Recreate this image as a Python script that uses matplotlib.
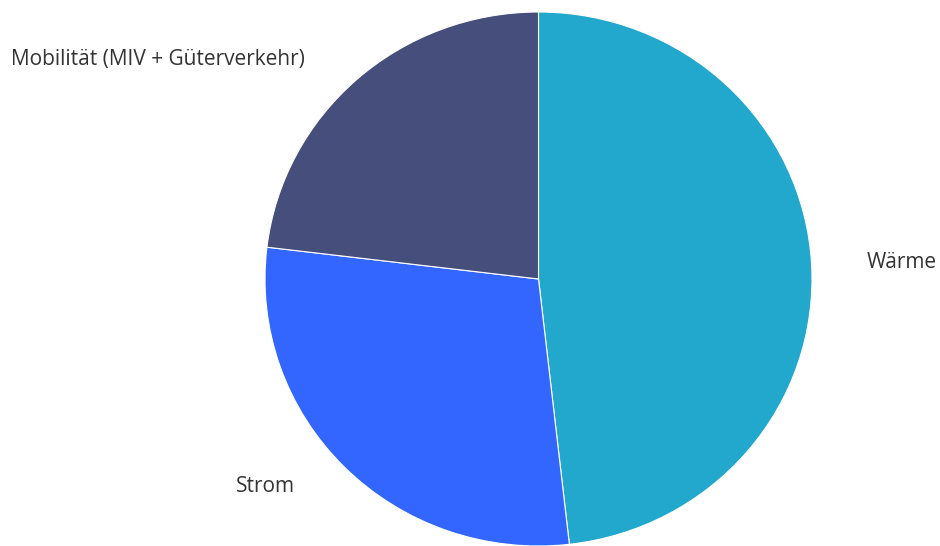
import matplotlib
matplotlib.use("Agg")
import matplotlib.pyplot as plt

# Anteile am Energieverbrauch (geschätzt aus der Grafik, in %)
kategorien = ["Wärme", "Strom", "Mobilität (MIV + Güterverkehr)"]
anteile = [48.2, 28.7, 23.1]
farben = ["#21a8cc", "#3366fe", "#464f7c"]

# Label-Positionen in Pixeln (links, Mitte)
label_pos = {
    "Wärme": (867, 262),
    "Strom": (236, 487),
    "Mobilität (MIV + Güterverkehr)": (11, 59),
}

W, H = 940, 546
fig = plt.figure(figsize=(W / 100, H / 100), dpi=100)

# Achse so platzieren, dass der Kuchen den Bereich der Vorlage füllt
x0, x1, y0, y1 = 265, 812, 12, 546
ax = fig.add_axes([x0 / W, 1 - y1 / H, (x1 - x0) / W, (y1 - y0) / H])
ax.pie(
    anteile,
    colors=farben,
    startangle=90,
    counterclock=False,
    radius=1,
    wedgeprops=dict(linewidth=0.8, edgecolor="white"),
)
ax.set_aspect("auto")
ax.set_xlim(-1, 1)
ax.set_ylim(-1, 1)
ax.axis("off")

for name in kategorien:
    px, py = label_pos[name]
    fig.text(px / W, 1 - py / H, name, ha="left", va="center",
             fontsize=15, color="#333333", family="Open Sans")

fig.savefig("out.png", dpi=100, facecolor="white")
